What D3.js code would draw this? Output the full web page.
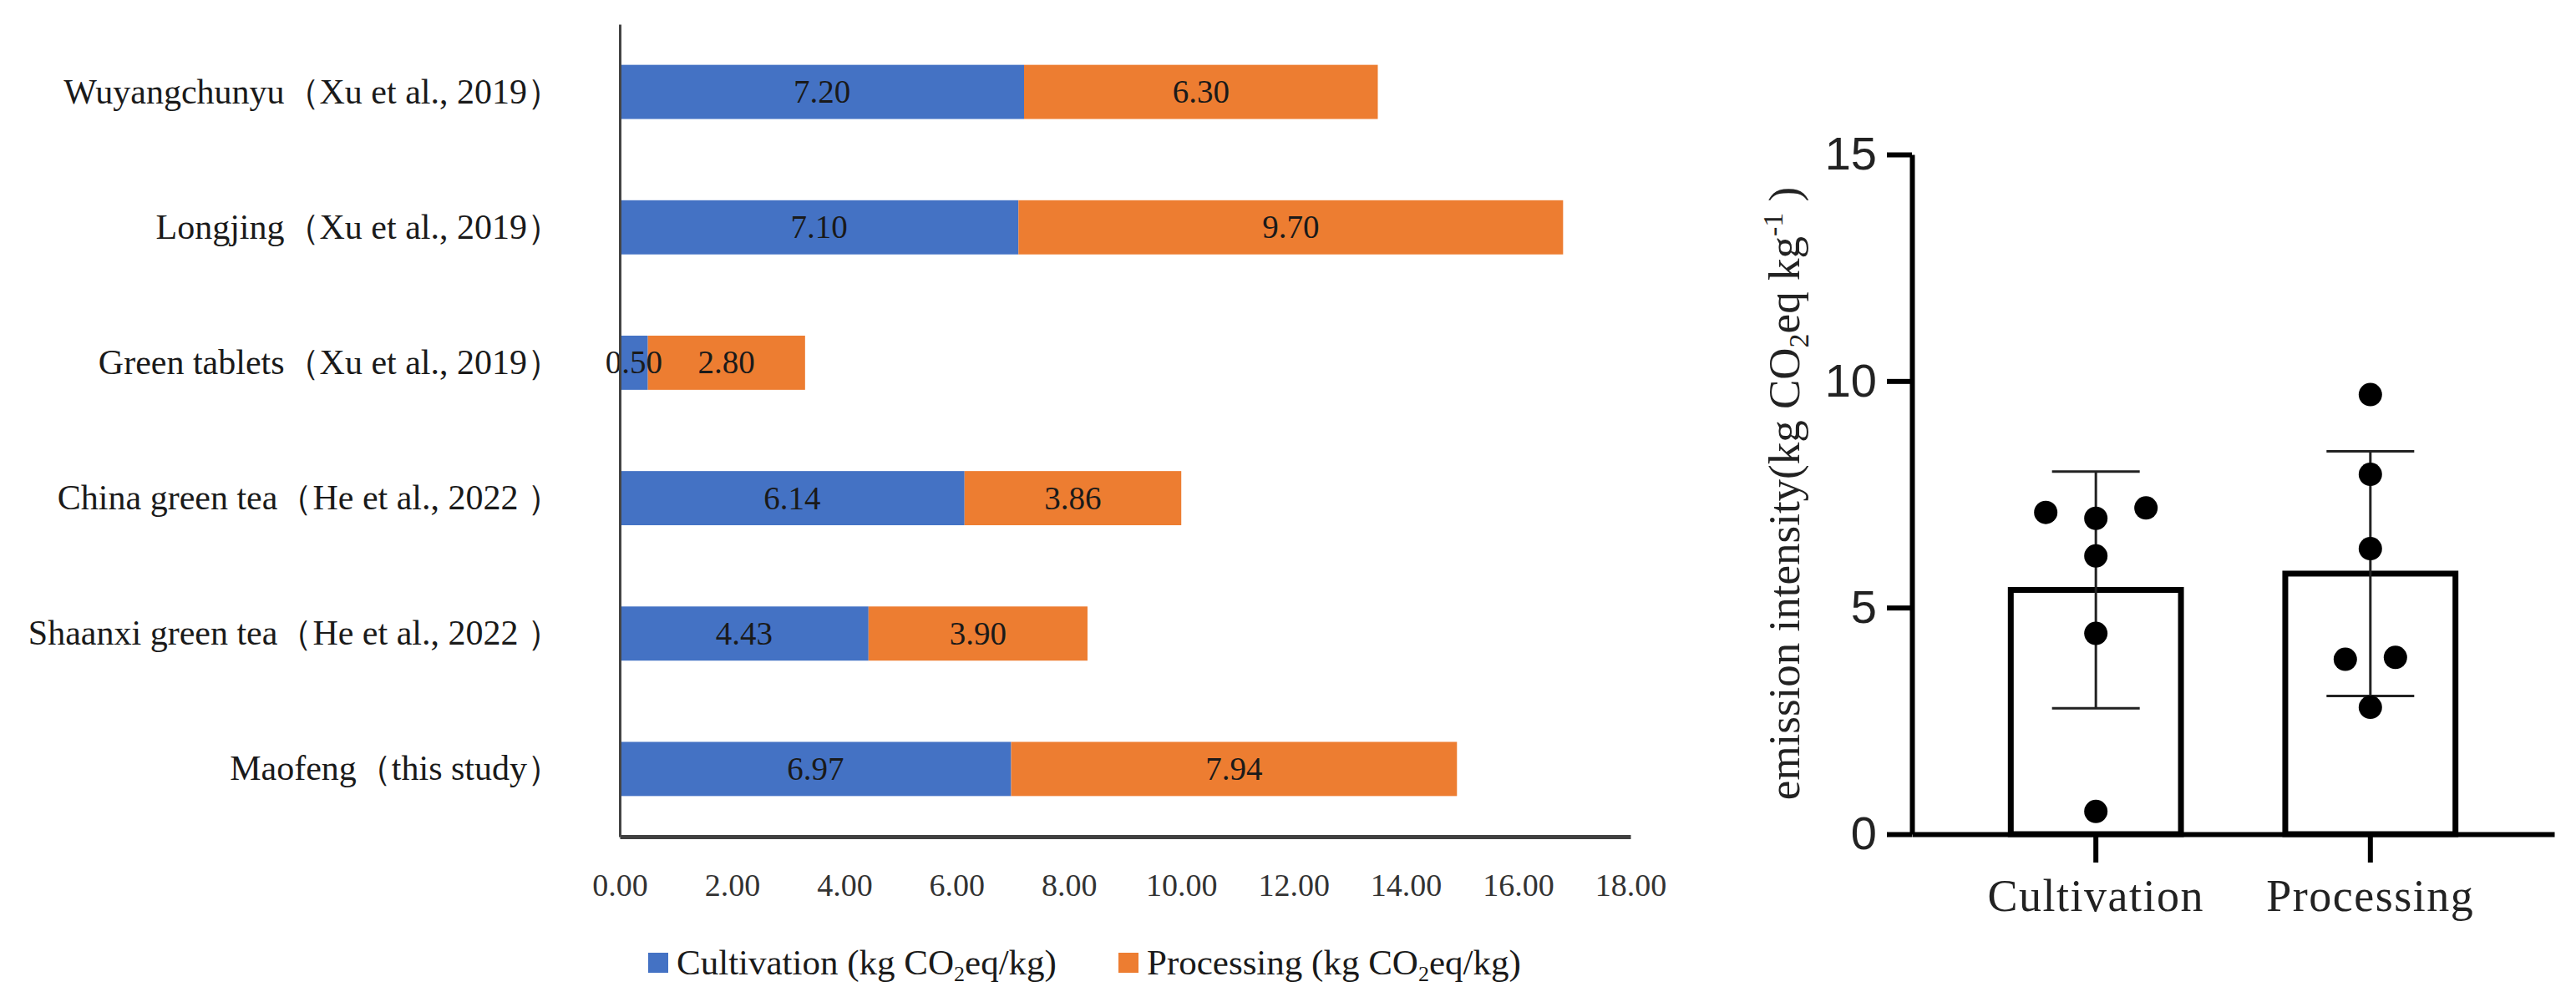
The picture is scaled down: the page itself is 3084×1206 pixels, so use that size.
<!DOCTYPE html>
<html>
<head>
<meta charset="utf-8">
<script src="https://cdn.jsdelivr.net/npm/d3@7"></script>
<style>
  body { margin: 0; background: #fff; }
  svg { display: block; }
</style>
</head>
<body>
<svg id="chart" width="3084" height="1206"></svg>
<script>
// left chart data - stacked horizontal bars
const categories = [
    "Wuyangchunyu（Xu et al., 2019）",
    "Longjing（Xu et al., 2019）",
    "Green tablets（Xu et al., 2019）",
    "China green tea（He et al., 2022 ）",
    "Shaanxi green tea（He et al., 2022 ）",
    "Maofeng（this study）"
];
const cultivation = [7.20, 7.10, 0.50, 6.14, 4.43, 6.97];
const processing = [6.30, 9.70, 2.80, 3.86, 3.90, 7.94];
const xTicks = [0, 2, 4, 6, 8, 10, 12, 14, 16, 18];

// right chart data - mean bars with sd and points
const groups = ["Cultivation", "Processing"];
const yTicks = [0, 5, 10, 15];

const blue = '#4472C4';
const orange = '#ED7D31';
const serif = '"Liberation Serif", "DejaVu Serif", serif';

let svg = d3.select('#chart');

// ---------- left chart ----------
let x = d3.scaleLinear().domain([0, 18]).range([742, 1952]);
let y = d3.scaleBand().domain(categories).range([29, 1002])
    .paddingInner(0.6).paddingOuter(0.3);

let rows = categories.map(function(c, i){
    return {name: c, cult: cultivation[i], proc: processing[i]};
});

let left = svg.append('g').attr('id', 'leftChart');

// cultivation segments
left.selectAll('rect.cult')
    .data(rows)
    .enter()
        .append('rect')
        .attr('class', 'cult')
        .attr('x', x(0))
        .attr('y', function(d){ return y(d.name); })
        .attr('width', function(d){ return x(d.cult) - x(0); })
        .attr('height', y.bandwidth())
        .attr('fill', blue);

// processing segments stacked on top
left.selectAll('rect.proc')
    .data(rows)
    .enter()
        .append('rect')
        .attr('class', 'proc')
        .attr('x', function(d){ return x(d.cult); })
        .attr('y', function(d){ return y(d.name); })
        .attr('width', function(d){ return x(d.cult + d.proc) - x(d.cult); })
        .attr('height', y.bandwidth())
        .attr('fill', orange);

// value labels
let labelData = [];
rows.forEach(function(d){
    labelData.push({name: d.name, pos: d.cult / 2, v: d.cult});
    labelData.push({name: d.name, pos: d.cult + d.proc / 2, v: d.proc});
});
left.selectAll('text.val')
    .data(labelData)
    .enter()
        .append('text')
        .attr('class', 'val')
        .attr('x', function(d){ return x(d.pos); })
        .attr('y', function(d){ return y(d.name) + y.bandwidth() / 2 + 13; })
        .style('text-anchor', 'middle')
        .style('font-family', serif)
        .style('font-size', '39px')
        .attr('fill', '#1a1a1a')
        .text(function(d){ return d.v.toFixed(2); });

// axes
let yAxisL = left.append('g')
    .attr('transform', 'translate(' + x(0) + ',0)')
    .call(d3.axisLeft(y).tickSize(0).tickSizeOuter(0).tickPadding(69));
yAxisL.select('.domain').attr('stroke', '#444').attr('stroke-width', 3);
yAxisL.selectAll('text')
    .style('font-family', serif)
    .style('font-size', '42px')
    .attr('fill', '#1a1a1a');

let xAxisL = left.append('g')
    .attr('transform', 'translate(0,1002)')
    .call(d3.axisBottom(x).tickValues(xTicks).tickSize(0).tickSizeOuter(0)
        .tickPadding(44).tickFormat(d3.format('.2f')));
xAxisL.select('.domain').attr('stroke', '#404040').attr('stroke-width', 5);
xAxisL.selectAll('text')
    .style('font-family', serif)
    .style('font-size', '38px')
    .attr('fill', '#333');

// legend
let legend = left.append('g').attr('transform', 'translate(776,1153)');
let legItems = [
    {color: blue, label: 'Cultivation', x: 0},
    {color: orange, label: 'Processing', x: 563}
];
legItems.forEach(function(it){
    legend.append('rect')
        .attr('x', it.x).attr('y', -12)
        .attr('width', 24).attr('height', 24)
        .attr('fill', it.color);
    let t = legend.append('text')
        .attr('x', it.x + 34).attr('y', 14)
        .style('font-family', serif)
        .style('font-size', '43px')
        .attr('fill', '#1a1a1a');
    t.append('tspan').text(it.label + ' (kg CO');
    t.append('tspan').attr('dy', 8).style('font-size', '26px').text('2');
    t.append('tspan').attr('dy', -8).text('eq/kg)');
});

// ---------- right chart ----------
let series = [cultivation, processing];
let stats = groups.map(function(g, i){
    return {
        name: g,
        values: series[i],
        mean: d3.mean(series[i]),
        sd: d3.deviation(series[i])
    };
});

let x2 = d3.scaleBand().domain(groups).range([2289, 3058])
    .paddingInner(0.38).paddingOuter(0.36);
let y2 = d3.scaleLinear().domain([0, 15]).range([999, 185]);

let right = svg.append('g').attr('id', 'rightChart');

// bars
right.selectAll('rect.bar')
    .data(stats)
    .enter()
        .append('rect')
        .attr('class', 'bar')
        .attr('x', function(d){ return x2(d.name); })
        .attr('y', function(d){ return y2(d.mean); })
        .attr('width', x2.bandwidth())
        .attr('height', function(d){ return y2(0) - y2(d.mean); })
        .attr('fill', 'none')
        .attr('stroke', '#000')
        .attr('stroke-width', 7);

// error bars (mean +/- sd)
let cap = 105;
stats.forEach(function(d){
    let cx = x2(d.name) + x2.bandwidth() / 2;
    let g = right.append('g')
        .attr('stroke', '#222')
        .attr('stroke-width', 3);
    g.append('line')
        .attr('x1', cx).attr('x2', cx)
        .attr('y1', y2(d.mean + d.sd)).attr('y2', y2(d.mean - d.sd));
    [d.mean + d.sd, d.mean - d.sd].forEach(function(v){
        g.append('line')
            .attr('x1', cx - cap / 2).attr('x2', cx + cap / 2)
            .attr('y1', y2(v)).attr('y2', y2(v));
    });
});

// scatter points - spread overlapping points sideways
let radius = 14;
let step = 60;
let points = [];
stats.forEach(function(d){
    let cx = x2(d.name) + x2.bandwidth() / 2;
    let sorted = d.values.slice().sort(d3.ascending);
    let clusters = [];
    sorted.forEach(function(v){
        let last = clusters[clusters.length - 1];
        if(last && Math.abs(y2(v) - y2(last[last.length - 1])) < radius * 2){
            last.push(v);
        } else {
            clusters.push([v]);
        }
    });
    clusters.forEach(function(c){
        let n = c.length;
        let order = [];
        if(n % 2 == 1){
            order.push(0);
            for(let k = 1; order.length < n; k++){ order.push(-k); order.push(k); }
        } else {
            for(let k = 0.5; order.length < n; k++){ order.push(-k); order.push(k); }
        }
        c.forEach(function(v, j){
            points.push({cx: cx + order[j] * step, v: v});
        });
    });
});
right.selectAll('circle')
    .data(points)
    .enter()
        .append('circle')
        .attr('cx', function(d){ return d.cx; })
        .attr('cy', function(d){ return y2(d.v); })
        .attr('r', radius)
        .attr('fill', '#000');

// axes
let yAxisR = right.append('g')
    .attr('transform', 'translate(2289,0)')
    .call(d3.axisLeft(y2).tickValues(yTicks).tickSize(30).tickSizeOuter(0).tickPadding(12));
yAxisR.selectAll('line, path').attr('stroke', '#000').attr('stroke-width', 6);
yAxisR.selectAll('text')
    .style('font-family', '"Liberation Sans", Arial, sans-serif')
    .style('font-size', '56px')
    .attr('fill', '#222');

let xAxisR = right.append('g')
    .attr('transform', 'translate(0,999)')
    .call(d3.axisBottom(x2).tickSize(34).tickSizeOuter(0).tickPadding(20));
xAxisR.selectAll('line, path').attr('stroke', '#000').attr('stroke-width', 6);
xAxisR.selectAll('text')
    .style('font-family', serif)
    .style('font-size', '54px')
    .style('letter-spacing', '1.5px')
    .attr('fill', '#222');

// y axis title
let yTitle = right.append('text')
    .attr('transform', 'translate(2154,591) rotate(-90)')
    .style('text-anchor', 'middle')
    .style('font-family', serif)
    .style('font-size', '53px')
    .attr('fill', '#222');
yTitle.append('tspan').text('emission intensity(kg CO');
yTitle.append('tspan').attr('dy', 11).style('font-size', '34px').text('2');
yTitle.append('tspan').attr('dy', -11).text('eq kg');
yTitle.append('tspan').attr('dy', -20).style('font-size', '34px').text('-1');
yTitle.append('tspan').attr('dy', 20).text(' )');
</script>
</body>
</html>
